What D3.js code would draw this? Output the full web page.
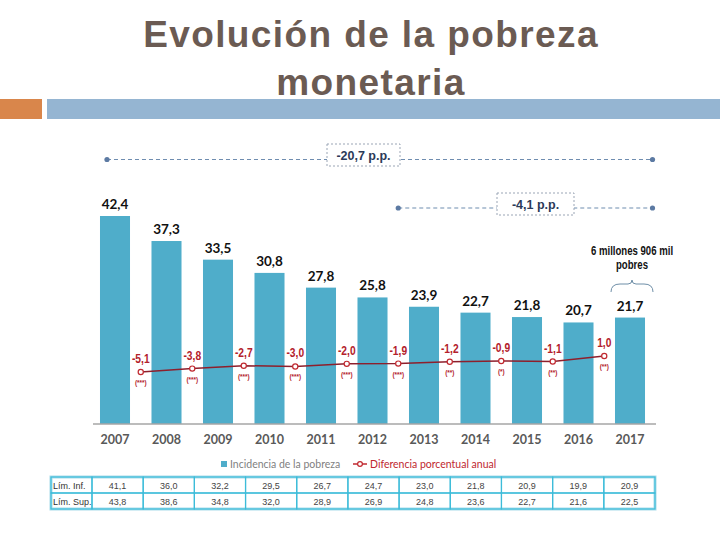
<!DOCTYPE html>
<html><head><meta charset="utf-8">
<script src="https://cdn.jsdelivr.net/npm/d3@7"></script>
<style>body{margin:0;background:#fff}svg{display:block}</style>
</head><body>
<script>
const years = ["2007","2008","2009","2010","2011","2012","2013","2014","2015","2016","2017"];
const incidencia = [42.4,37.3,33.5,30.8,27.8,25.8,23.9,22.7,21.8,20.7,21.7];
const diffYears = ["2008","2009","2010","2011","2012","2013","2014","2015","2016","2017"];
const diferencia = [-5.1,-3.8,-2.7,-3.0,-2.0,-1.9,-1.2,-0.9,-1.1,1.0];
const significancia = ["(***)","(***)","(***)","(***)","(***)","(***)","(**)","(*)","(**)","(**)"];
const limInf = ["41,1","36,0","32,2","29,5","26,7","24,7","23,0","21,8","20,9","19,9","20,9"];
const limSup = ["43,8","38,6","34,8","32,0","28,9","26,9","24,8","23,6","22,7","21,6","22,5"];
const rowLabels = ["Lím. Inf.","Lím. Sup."];
const titleLines = ["Evolución de la pobreza","monetaria"];
const brackets = [{from:"2007",to:"2017",label:"-20,7 p.p."},{from:"2013",to:"2017",label:"-4,1 p.p."}];
const noteLines = ["6 millones 906 mil","pobres"];
const legendLabels = ["Incidencia de la pobreza","Diferencia porcentual anual"];

const fmt = v => d3.format(".1f")(v).replace(".", ",").replace("−","-");
const W = 720, H = 540;
const svg = d3.select("body").append("svg").attr("width", W).attr("height", H);
const sans = "'Liberation Sans', Arial, sans-serif";

// condensed text helper (horizontal squeeze like Arial Narrow)
function narrowText(g, data, fx, fy, opts) {
  return g.selectAll(null).data(data).join("text")
    .attr("transform",(d,i)=>`translate(${fx(d,i)},${fy(d,i)}) scale(${opts.sx},1)`)
    .attr("text-anchor","middle")
    .style("font-family",sans).style("font-weight","bold").style("font-size",opts.size)
    .attr("fill",opts.fill).text(opts.text || (d=>d));
}

// title
const tt = svg.append("text").attr("text-anchor","middle").attr("fill","#6b5b53")
  .style("font-family",sans).style("font-size","37px").style("font-weight","bold")
  .style("letter-spacing","1.4px");
tt.selectAll("tspan").data(titleLines).join("tspan")
  .attr("x",371).attr("y",(d,i)=>47+i*48).text(d=>d);
svg.append("rect").attr("x",0).attr("y",99).attr("width",42).attr("height",20).attr("fill","#d9864b");
svg.append("rect").attr("x",47).attr("y",99).attr("width",673).attr("height",20).attr("fill","#95b5d2");

// scales
const x = d3.scaleBand().domain(years).range([89.25,655.75]).paddingInner(0.417).paddingOuter(0.2085);
const y = d3.scaleLinear().domain([0,42.4]).range([424,216]);
const yl = d3.scaleLinear().domain([-5.1,1.0]).range([372,356]);
const bw = x.bandwidth(), step = x.step();
const cx = d => x(d) + bw/2;
const px = d => x(d) + bw/2 - step/2;

// bars
svg.append("g").selectAll("rect").data(incidencia).join("rect")
  .attr("x",(d,i)=>x(years[i])).attr("y",d=>y(d)).attr("width",bw).attr("height",d=>y(0)-y(d))
  .attr("fill","#4fadca");
svg.append("g").selectAll("text").data(incidencia).join("text")
  .attr("x",(d,i)=>cx(years[i])).attr("y",d=>y(d)-7).attr("text-anchor","middle")
  .style("font-family","Lato, sans-serif").style("font-weight","bold").style("font-size","13.5px")
  .attr("fill","#111").text(d=>fmt(d));

// axis
const axis = d3.axisBottom(x).tickSize(0).tickPadding(11);
const ag = svg.append("g").attr("transform","translate(0,424)").call(axis);
ag.select(".domain").attr("d","M93,0H656").attr("stroke","#a6a6a6").attr("stroke-width",1.5);
ag.selectAll("text").style("font-family","Lato, sans-serif").style("font-weight","bold")
  .style("font-size","12.5px").attr("fill","#595959");

// line
const line = d3.line().x((d,i)=>px(diffYears[i])).y(d=>yl(d));
svg.append("path").datum(diferencia).attr("d",line).attr("fill","none")
  .attr("stroke","#8e1f2c").attr("stroke-width",1.5);
svg.append("g").selectAll("circle").data(diferencia).join("circle")
  .attr("cx",(d,i)=>px(diffYears[i])).attr("cy",d=>yl(d)).attr("r",2.6)
  .attr("fill","#fff").attr("stroke","#c0282f").attr("stroke-width",1.2);
narrowText(svg.append("g"), diferencia, (d,i)=>px(diffYears[i]), d=>yl(d)-9,
  {sx:0.82,size:"12.5px",fill:"#b3212b",text:d=>fmt(d)});
narrowText(svg.append("g"), significancia, (d,i)=>px(diffYears[i]), (d,i)=>yl(diferencia[i])+13,
  {sx:0.8,size:"8px",fill:"#b3212b"});

// brackets
const bY = [159.5, 208];
const bStart = [x("2007")+7, px("2013")];
const boxes = [[327,144,73,22],[497,193,77,22]];
brackets.forEach((b,i)=>{
  const g = svg.append("g");
  const x1 = bStart[i], x2 = cx(b.to)+22.5;
  g.append("line").attr("x1",x1).attr("x2",x2).attr("y1",bY[i]).attr("y2",bY[i])
    .attr("stroke","#6f8db0").attr("stroke-width",1.2).attr("stroke-dasharray","4,3");
  [x1,x2].forEach(xx=>g.append("circle").attr("cx",xx).attr("cy",bY[i]).attr("r",2.6).attr("fill","#5c7aa3"));
  const [bx,by,bw2,bh] = boxes[i];
  g.append("rect").attr("x",bx).attr("y",by).attr("width",bw2).attr("height",bh)
    .attr("fill","#fff").attr("stroke","#9aa5b5").attr("stroke-width",1).attr("stroke-dasharray","2,2");
  g.append("text").attr("x",bx+bw2/2).attr("y",by+16).attr("text-anchor","middle")
    .style("font-family",sans).style("font-weight","bold").style("font-size","12.5px")
    .attr("fill","#2b3a58").text(b.label);
});

// note
const nx = cx("2017")+2;
narrowText(svg.append("g"), noteLines, d=>nx, (d,i)=>255+i*14, {sx:0.8,size:"12px",fill:"#111"});
svg.append("path").attr("d",`M${nx-21},292 Q${nx-21},284 ${nx-12},284 L${nx-4},284 Q${nx},284 ${nx},280 Q${nx},284 ${nx+4},284 L${nx+12},284 Q${nx+21},284 ${nx+21},292`)
  .attr("fill","none").attr("stroke","#6f8fa8").attr("stroke-width",1);

// legend
svg.append("rect").attr("x",221).attr("y",461).attr("width",6).attr("height",6).attr("fill","#4fadca");
svg.append("text").attr("x",230).attr("y",467.5).style("font-family","Lato, sans-serif").style("font-size","10.5px")
  .attr("fill","#7f7f7f").text(legendLabels[0]);
svg.append("line").attr("x1",353).attr("x2",367).attr("y1",464).attr("y2",464).attr("stroke","#c0282f").attr("stroke-width",1.5);
svg.append("circle").attr("cx",360).attr("cy",464).attr("r",2.4).attr("fill","#fff").attr("stroke","#c0282f").attr("stroke-width",1.2);
svg.append("text").attr("x",370).attr("y",467.5).style("font-family","Lato, sans-serif").style("font-size","10.5px")
  .attr("fill","#c0282f").text(legendLabels[1]);

// table
const rows = [limInf, limSup];
const tx = d3.scaleBand().domain(years).range([92,655]);
const ty = d3.scaleBand().domain(rowLabels).range([477,509]);
const tg = svg.append("g");
tg.append("rect").attr("x",51).attr("y",477).attr("width",604).attr("height",32)
  .attr("fill","#fff").attr("stroke","#a9dcea").attr("stroke-width",3);
rowLabels.forEach((lab,r)=>{
  tg.append("rect").attr("x",51).attr("y",ty(lab)).attr("width",41).attr("height",ty.bandwidth())
    .attr("fill","none").attr("stroke","#3dbcd9").attr("stroke-width",1.2);
  tg.append("text").attr("x",53).attr("y",ty(lab)+ty.bandwidth()/2+3.5)
    .style("font-family",sans).style("font-size","9px").attr("fill","#333").text(lab);
  tg.selectAll(null).data(rows[r]).join("rect")
    .attr("x",(d,i)=>tx(years[i])).attr("y",ty(lab)).attr("width",tx.bandwidth()).attr("height",ty.bandwidth())
    .attr("fill","none").attr("stroke","#3dbcd9").attr("stroke-width",1.2);
  tg.selectAll(null).data(rows[r]).join("text")
    .attr("x",(d,i)=>tx(years[i])+tx.bandwidth()/2).attr("y",ty(lab)+ty.bandwidth()/2+3.5)
    .attr("text-anchor","middle").style("font-family",sans).style("font-size","9px")
    .attr("fill","#444").text(d=>d);
});
</script>
</body></html>
